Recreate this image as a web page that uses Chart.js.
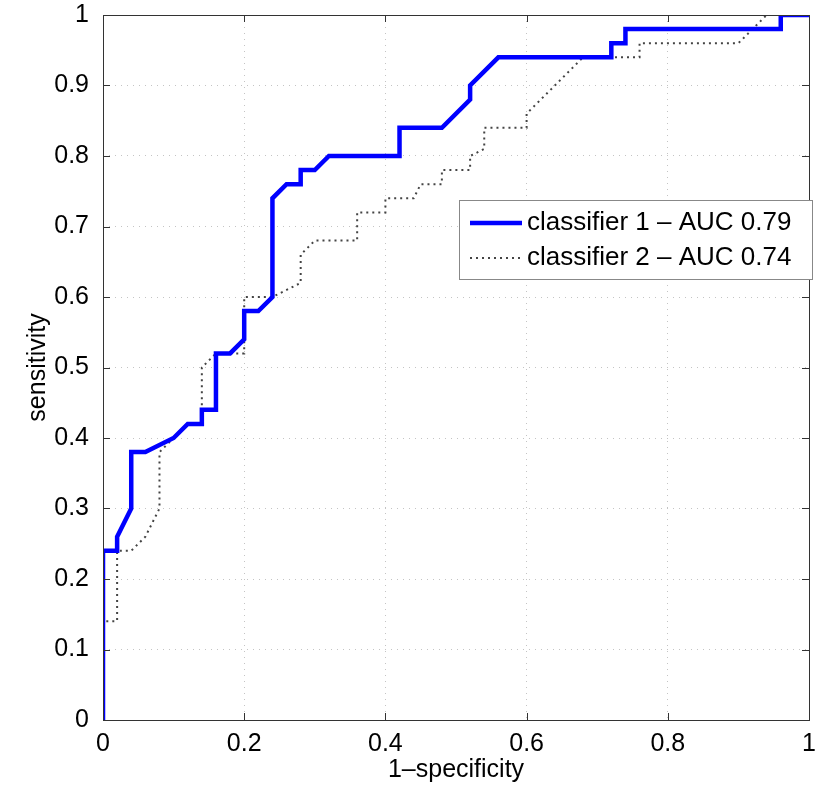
<!DOCTYPE html>
<html>
<head>
<meta charset="utf-8">
<script src="https://cdn.jsdelivr.net/npm/chart.js@4"></script>
<style>
  html, body { margin: 0; padding: 0; background: #fff; }
  #wrap { width: 830px; height: 786px; }
</style>
</head>
<body>
<div id="wrap"><canvas id="roc" width="830" height="786"></canvas></div>
<script>
// ROC curves
const fpr1 = [0, 0, 0.02, 0.02, 0.04, 0.04, 0.06, 0.10, 0.12, 0.14, 0.14, 0.16, 0.16, 0.18, 0.20, 0.20, 0.22, 0.24, 0.24, 0.26,
  0.28, 0.28, 0.30, 0.32, 0.42, 0.42, 0.48, 0.52, 0.52, 0.56, 0.72, 0.72, 0.74, 0.74, 0.96, 0.96, 1];
const tpr1 = [0, 0.24, 0.24, 0.26, 0.30, 0.38, 0.38, 0.40, 0.42, 0.42, 0.44, 0.44, 0.52, 0.52, 0.54, 0.58, 0.58, 0.60, 0.74, 0.76,
  0.76, 0.78, 0.78, 0.80, 0.80, 0.84, 0.84, 0.88, 0.90, 0.94, 0.94, 0.96, 0.96, 0.98, 0.98, 1, 1];

const fpr2 = [0, 0, 0.02, 0.02, 0.04, 0.06, 0.08, 0.08, 0.10, 0.12, 0.14, 0.14, 0.16, 0.20, 0.20, 0.24, 0.28, 0.28, 0.30, 0.36,
  0.36, 0.40, 0.40, 0.44, 0.45, 0.48, 0.48, 0.52, 0.52, 0.54, 0.54, 0.60, 0.60, 0.64, 0.68, 0.76, 0.76, 0.90, 0.92, 0.94, 1];
const tpr2 = [0, 0.14, 0.14, 0.24, 0.24, 0.26, 0.30, 0.38, 0.40, 0.42, 0.42, 0.50, 0.52, 0.52, 0.60, 0.60, 0.62, 0.66, 0.68, 0.68,
  0.72, 0.72, 0.74, 0.74, 0.76, 0.76, 0.78, 0.78, 0.80, 0.81, 0.84, 0.84, 0.86, 0.90, 0.94, 0.94, 0.96, 0.96, 0.98, 1, 1];

const seriesNames = ["classifier 1 \u2013 AUC 0.79", "classifier 2 \u2013 AUC 0.74"];
const xTitle = "1\u2013specificity";
const yTitle = "sensitivity";

const FONT = "'Liberation Sans', Arial, Helvetica, sans-serif";

function toPoints(xs, ys) {
  return xs.map((x, i) => ({ x, y: ys[i] }));
}

// box, inward tick marks and the legend, drawn the MATLAB way
const axesBox = {
  id: "axesBox",
  afterDatasetsDraw(chart) {
    const { ctx, chartArea: a, scales } = chart;
    ctx.save();
    ctx.strokeStyle = "#333";
    ctx.lineWidth = 1;
    ctx.setLineDash([]);
    ctx.beginPath();
    scales.x.ticks.forEach((t) => {
      const px = Math.round(scales.x.getPixelForValue(t.value)) + 0.5;
      ctx.moveTo(px, a.bottom); ctx.lineTo(px, a.bottom - 7);
      ctx.moveTo(px, a.top); ctx.lineTo(px, a.top + 7);
    });
    scales.y.ticks.forEach((t) => {
      const py = Math.round(scales.y.getPixelForValue(t.value)) + 0.5;
      ctx.moveTo(a.left, py); ctx.lineTo(a.left + 7, py);
      ctx.moveTo(a.right, py); ctx.lineTo(a.right - 7, py);
    });
    ctx.stroke();
    ctx.strokeRect(Math.round(a.left) + 0.5, Math.round(a.top) + 0.5,
      Math.round(a.width), Math.round(a.height));

    // legend
    const bx = a.right - 350, by = a.top + 185, bw = 353, bh = 79;
    ctx.fillStyle = "#fff";
    ctx.fillRect(bx, by, bw, bh);
    ctx.strokeStyle = "#888";
    ctx.strokeRect(bx + 0.5, by + 0.5, bw, bh);
    ctx.font = "26px " + FONT;
    ctx.textBaseline = "middle";
    ctx.fillStyle = "#000";
    chart.data.datasets.forEach((ds, i) => {
      const ry = by + 23 + i * 35;
      ctx.save();
      ctx.strokeStyle = ds.borderColor;
      ctx.lineWidth = ds.borderWidth;
      ctx.setLineDash(ds.borderDash || []);
      ctx.beginPath();
      ctx.moveTo(bx + 11, ry);
      ctx.lineTo(bx + 63, ry);
      ctx.stroke();
      ctx.restore();
      ctx.fillText(ds.label, bx + 68, ry);
    });
    ctx.restore();
  },
};

new Chart(document.getElementById("roc"), {
  type: "line",
  data: {
    datasets: [
      {
        label: seriesNames[0],
        data: toPoints(fpr1, tpr1),
        borderColor: "#0000ff",
        borderWidth: 4.5,
        pointRadius: 0,
        tension: 0,
        clip: 0,
      },
      {
        label: seriesNames[1],
        data: toPoints(fpr2, tpr2),
        borderColor: "#444",
        borderWidth: 2,
        borderDash: [2, 4],
        pointRadius: 0,
        tension: 0,
        clip: 0,
      },
    ],
  },
  options: {
    responsive: false,
    animation: false,
    layout: { padding: { top: 0, right: 21, left: 0, bottom: 0 } },
    plugins: {
      legend: { display: false },
      tooltip: { enabled: false },
    },
    scales: {
      x: {
        type: "linear",
        min: 0,
        max: 1,
        afterFit: (s) => { s.height = 66; },
        ticks: {
          stepSize: 0.2,
          padding: 9,
          color: "#000",
          font: { family: FONT, size: 25 },
          callback: (v) => +v.toFixed(1),
        },
        grid: { color: "#c4c4c4", lineWidth: 1, drawTicks: false },
        border: { display: false, dash: [1, 5] },
        title: {
          display: true,
          text: xTitle,
          color: "#000",
          font: { family: FONT, size: 25 },
          padding: { top: 0, bottom: 1 },
        },
      },
      y: {
        type: "linear",
        min: 0,
        max: 1,
        afterFit: (s) => {
          s.width = 103;
          s.paddingTop = 15;
          s.paddingBottom = 0;
        },
        ticks: {
          stepSize: 0.1,
          padding: 14,
          color: "#000",
          font: { family: FONT, size: 25 },
          callback: (v) => +v.toFixed(1),
        },
        grid: { color: "#c4c4c4", lineWidth: 1, drawTicks: false },
        border: { display: false, dash: [1, 5] },
        title: {
          display: true,
          text: yTitle,
          color: "#000",
          font: { family: FONT, size: 25 },
          padding: { top: 23, bottom: 0 },
        },
      },
    },
  },
  plugins: [axesBox],
});
</script>
</body>
</html>
